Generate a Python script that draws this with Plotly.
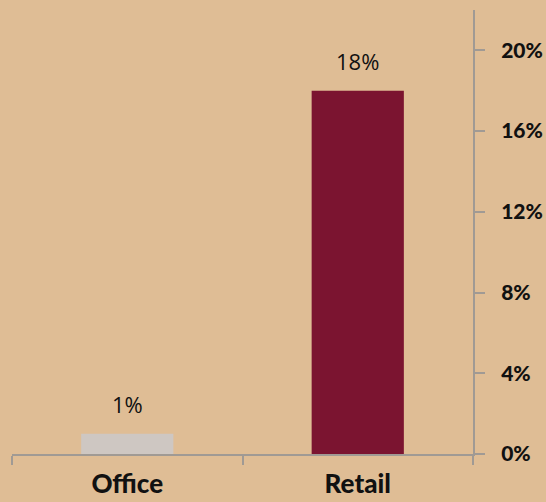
import plotly.graph_objects as go

# Share of space by property type
categories = ["Office", "Retail"]
values = [1, 18]
bar_colors = ["#cec7c2", "#7b1430"]
y_ticks = [0, 4, 8, 12, 16, 20]
y_tick_labels = [f"{v}%" for v in y_ticks]

bg = "#dfbd95"
axis_grey = "#a09a94"

fig = go.Figure()
fig.add_trace(go.Bar(
    x=categories,
    y=values,
    marker=dict(color=bar_colors, line=dict(width=0)),
    width=0.4,
    hoverinfo="skip",
))

# value labels above each bar
for c, v in zip(categories, values):
    fig.add_annotation(
        x=c, y=v, text=f"{v}%", showarrow=False,
        yanchor="bottom", yshift=13,
        font=dict(family="Open Sans", size=22, color="#111111"),
    )

fig.update_layout(
    width=546, height=502,
    margin=dict(l=12, r=73, t=10, b=48),
    paper_bgcolor=bg, plot_bgcolor=bg,
    showlegend=False,
)
fig.update_xaxes(
    type="category",
    range=[-0.5, 1.5],
    automargin=False,
    showline=True, linecolor=axis_grey, linewidth=2,
    ticks="outside", tickson="boundaries", ticklen=9, tickcolor=axis_grey, tickwidth=1.5,
    tickfont=dict(family="Lato", size=26, color="#111111", weight=900),
    showgrid=False, zeroline=False,
    ticklabelstandoff=6,
)
fig.update_yaxes(
    side="right",
    range=[0, 22],
    automargin=False,
    tickvals=y_ticks, ticktext=y_tick_labels,
    showline=True, linecolor=axis_grey, linewidth=2,
    ticks="outside", ticklen=10, tickcolor=axis_grey, tickwidth=1.5,
    tickfont=dict(family="Lato", size=21, color="#111111", weight=900),
    showgrid=False, zeroline=False,
    ticklabelstandoff=12,
)

fig.write_html("out.html")
